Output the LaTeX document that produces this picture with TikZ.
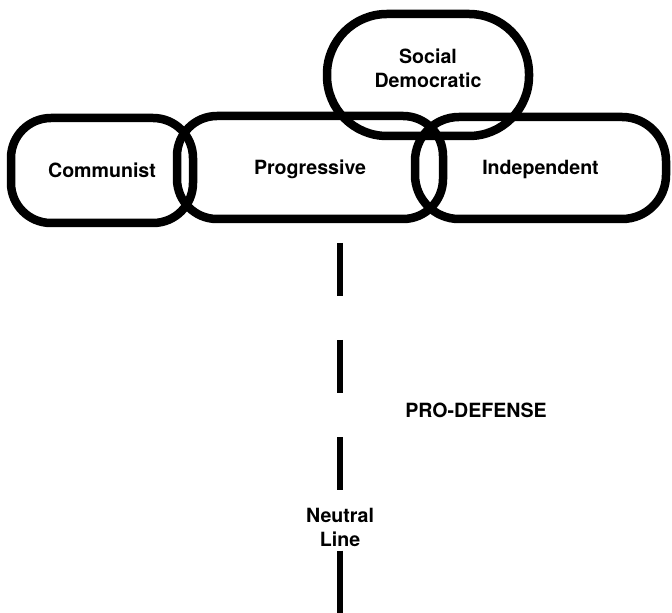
\documentclass[tikz,border=0pt]{standalone}
\usepackage{fontspec}
\setmainfont{TeX Gyre Heros}

\tikzset{
  party/.style={draw, line width=4.25pt, rounded corners=20pt, align=center,
    font=\fontsize{9.8}{12}\selectfont\bfseries, text height=1.5ex, text depth=0.25ex},
  tag/.style={align=center, inner sep=2pt, font=\fontsize{9.8}{12}\selectfont\bfseries},
  neutralline/.style={line width=2.6pt}
}

\begin{document}
\begin{tikzpicture}[x=0.5pt, y=-0.5pt]
    \useasboundingbox (0,0) rectangle (672,613);
    % Party boxes, overlapping in a row, with one on top
    \node[party, minimum width=91pt, minimum height=52.5pt] (communist) at (102,170.5) {Communist};
    \node[party, minimum width=133pt, minimum height=51.5pt] (progressive) at (310,167.5) {Progressive};
    \node[party, rounded corners=22pt, minimum width=125.5pt, minimum height=51pt] (independent) at (540.5,168) {Independent};
    \node[party, rounded corners=30pt, minimum width=101pt, minimum height=61pt] (socdem) at (428,75) {};
    \node[tag] (socdemtext) at (428,68) {Social\\Democratic};
    % Neutral line, broken by its label
    \coordinate (linetop) at (340,243);
    \coordinate (linebot) at (340,613);
    \node[tag] (neutral) at (340,527) {Neutral\\Line};
    \draw[neutralline, dash pattern=on 26.5pt off 22pt] (linetop) -- (neutral);
    \draw[neutralline] (neutral) -- (linebot);
    \node[tag] (prodefense) at (476,410) {PRO-DEFENSE};
\end{tikzpicture}
\end{document}
